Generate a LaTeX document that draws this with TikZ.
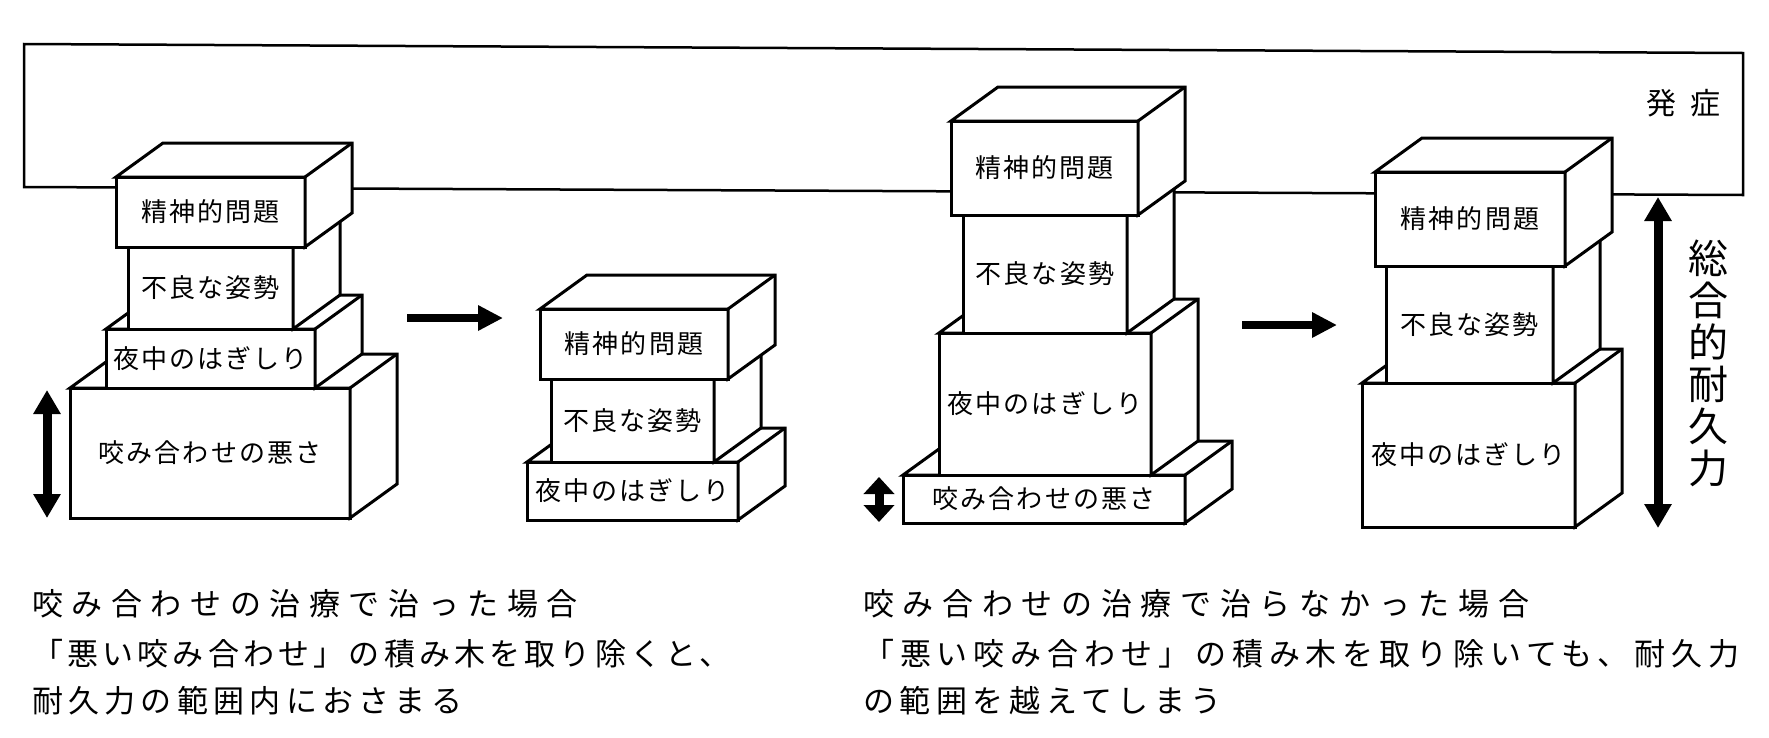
\documentclass[tikz,border=0pt]{standalone}
\usepackage{fontspec}
\setmainfont{Noto Sans CJK JP}
\newfontfamily\boxfont{Noto Sans CJK JP}[LetterSpace=8]
\usetikzlibrary{arrows.meta,calc}
\newcommand\blk[5]{%
  \node[block, minimum width=#3, minimum height=#4] (#1) at (#2) {#5};
  \filldraw[face] (#1.north west) -- ++(47,-34) -- ($(#1.north east)+(47,-34)$)
    -- ($(#1.south east)+(47,-34)$) -- (#1.south east) -- (#1.north east) -- cycle;
  \draw[face] (#1.north east) -- ++(47,-34);}

\begin{document}
\begin{tikzpicture}[x=1pt, y=-1pt,
    block/.style = {draw, line width=3pt, fill=white, inner sep=0pt, outer sep=0pt,
      font=\boxfont\fontsize{26}{30}\selectfont},
    face/.style = {line width=3pt, fill=white},
    frame/.style = {line width=2.5pt},
    fatarrow/.style = {line width=8pt, -{Triangle[width=24pt,length=25pt]}},
    fatboth/.style = {line width=9pt, {Triangle[width=26pt,length=24pt]}-{Triangle[width=26pt,length=24pt]}},
    shortboth/.style = {line width=9pt, {Triangle[width=30pt,length=17pt]}-{Triangle[width=30pt,length=17pt]}},
    caption/.style = {anchor=west, inner sep=0pt, font=\fontsize{31}{36}\selectfont}]
\useasboundingbox (0,0) rectangle (1769,737);

\draw[frame] (24,187) -- (24,44) -- (1743,53) -- (1743,195) -- cycle;
\node[font=\fontsize{30}{36}\selectfont] (hassho) at (1683,103) {発\hspace{14pt}症};

\blk{s1d}{210,453}{280}{130}{咬み合わせの悪さ}
\blk{s1c}{210.5,358.5}{209}{59}{夜中のはぎしり}
\blk{s1b}{210.5,288}{165}{82}{不良な姿勢}
\blk{s1a}{210.5,212}{189}{70}{精神的問題}

\blk{s2c}{632.5,491}{211}{58}{夜中のはぎしり}
\blk{s2b}{632.5,420.5}{163}{83}{不良な姿勢}
\blk{s2a}{634,344}{188}{70}{精神的問題}

\blk{s3d}{1044,499}{282}{48}{咬み合わせの悪さ}
\blk{s3c}{1045,404}{212}{142}{夜中のはぎしり}
\blk{s3b}{1045,274}{164}{118}{不良な姿勢}
\blk{s3a}{1044.5,168}{187}{94}{精神的問題}

\blk{s4c}{1468.5,455}{213}{144}{夜中のはぎしり}
\blk{s4b}{1469.5,324.5}{167}{117}{不良な姿勢}
\blk{s4a}{1470,219}{190}{94}{精神的問題}

\coordinate (left1) at (47,390);
\coordinate (left2) at (47,518);
\coordinate (mid1) at (879,477);
\coordinate (mid2) at (879,522);
\coordinate (right1) at (1658,197);
\coordinate (right2) at (1658,528);
\coordinate (go1s) at (407,318);
\coordinate (go1e) at (503,318);
\coordinate (go2s) at (1242,325);
\coordinate (go2e) at (1337,325);
\draw[fatboth] (left1) -- (left2);
\draw[shortboth] (mid1) -- (mid2);
\draw[fatboth] (right1) -- (right2);
\draw[fatarrow] (go1s) -- (go1e);
\draw[fatarrow] (go2s) -- (go2e);

\node[align=center, font=\fontsize{40}{42}\selectfont] (taikyu) at (1708,363) {総\\合\\的\\耐\\久\\力};

\node[caption] (l1) at (32,604) {\addfontfeature{LetterSpace=27.7}咬み合わせの治療で治った場合};
\node[caption] (l2) at (32,654) {\addfontfeature{LetterSpace=13.5}「悪い咬み合わせ」の積み木を取り除くと、};
\node[caption] (l3) at (32,701) {\addfontfeature{LetterSpace=17}耐久力の範囲内におさまる};
\node[caption] (r1) at (863,604) {\addfontfeature{LetterSpace=28}咬み合わせの治療で治らなかった場合};
\node[caption] (r2) at (863,654) {\addfontfeature{LetterSpace=19}「悪い咬み合わせ」の積み木を取り除いても、耐久力};
\node[caption] (r3) at (863,701) {\addfontfeature{LetterSpace=18}の範囲を越えてしまう};
\end{tikzpicture}
\end{document}
